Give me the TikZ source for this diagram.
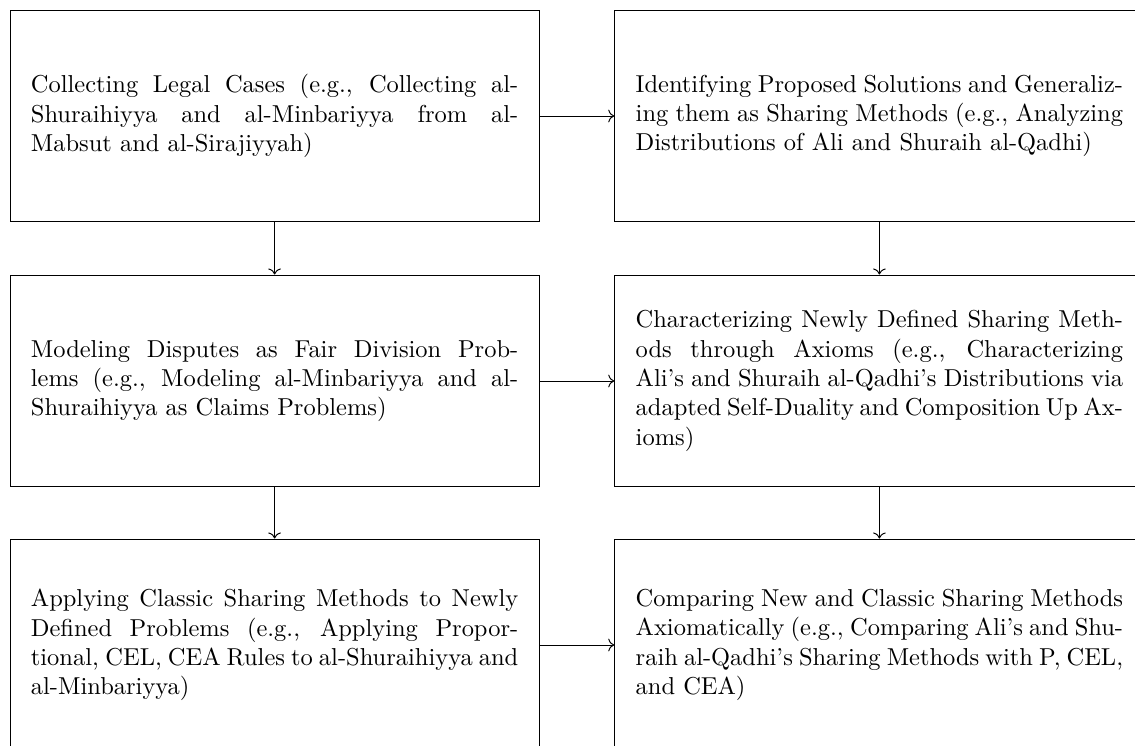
\documentclass[tikz,border=0pt]{standalone}
\usetikzlibrary{arrows.meta}
\tikzset{
  box/.style={draw, rectangle, text width=7cm, inner sep=0.3cm,
    minimum height=86.6pt, align=justify, anchor=center},
  conn/.style={->}
}
\begin{document}
\begin{tikzpicture}[x=0.40866pt, y=-0.40866pt]
\useasboundingbox (0,0) rectangle (1135,746);
\clip (0,0) rectangle (1135,746);
\node[box] (a1) at (274.6,116) {Collecting Legal Cases (e.g., Collecting al-Shuraihiyya and al-Minbariyya from al-Mabsut and al-Sirajiyyah)};
\node[box] (b1) at (879.4,116) {Identifying Proposed Solutions and Generalizing them as Sharing Methods (e.g., Analyzing Distributions of Ali and Shuraih al-Qadhi)};
\node[box] (a2) at (274.6,381) {Modeling Disputes as Fair Division Problems (e.g., Modeling al-Minbariyya and al-Shuraihiyya as Claims Problems)};
\node[box] (b2) at (879.4,381) {Characterizing Newly Defined Sharing Methods through Axioms (e.g., Characterizing Ali's and Shuraih al-Qadhi's Distributions via adapted Self-Duality and Composition Up Axioms)};
\node[box] (a3) at (274.6,645) {Applying Classic Sharing Methods to Newly Defined Problems (e.g., Applying Proportional, CEL, CEA Rules to al-Shuraihiyya and al-Minbariyya)};
\node[box] (b3) at (879.4,645) {Comparing New and Classic Sharing Methods Axiomatically (e.g., Comparing Ali's and Shuraih al-Qadhi's Sharing Methods with P, CEL, and CEA)};
\draw[conn] (a1.east) -- (b1.west);
\draw[conn] (a2.east) -- (b2.west);
\draw[conn] (a3.east) -- (b3.west);
\draw[conn] (a1.south) -- (a2.north);
\draw[conn] (a2.south) -- (a3.north);
\draw[conn] (b1.south) -- (b2.north);
\draw[conn] (b2.south) -- (b3.north);
\end{tikzpicture}
\end{document}
